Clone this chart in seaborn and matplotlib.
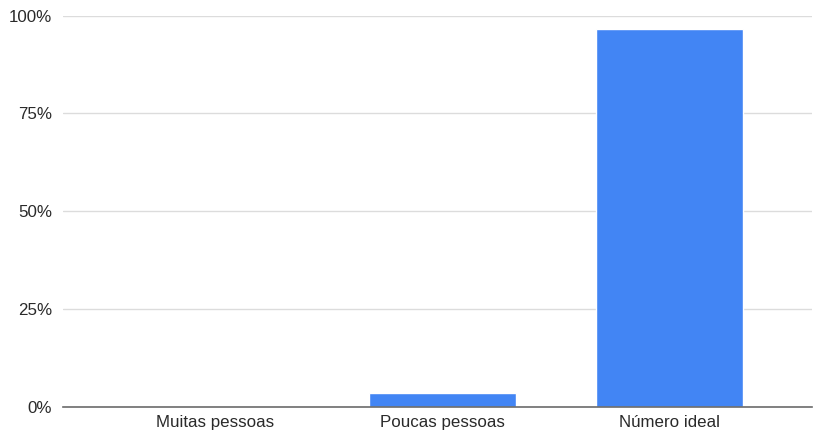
import matplotlib
matplotlib.use("Agg")
import matplotlib.pyplot as plt
import seaborn as sns
import pandas as pd
from matplotlib.ticker import FuncFormatter

categories = ["Muitas pessoas", "Poucas pessoas", "Número ideal"]
values = [0.0, 3.4, 96.6]
y_ticks = [0, 25, 50, 75, 100]

df = pd.DataFrame({"categoria": categories, "valor": values})

sns.set_theme(style="white")
plt.rcParams["font.family"] = ["Liberation Sans", "DejaVu Sans"]

fig = plt.figure(figsize=(8.14, 4.30), dpi=100)
ax = fig.add_axes([0.0774, 0.0542, 0.9201, 0.9093])

sns.barplot(data=df, x="categoria", y="valor", color="#4285F4",
            saturation=1, width=0.648, ax=ax, zorder=3)

ax.set_ylim(0, 100)
ax.set_xlim(-0.672, 2.628)
ax.set_yticks(y_ticks)
ax.yaxis.set_major_formatter(FuncFormatter(lambda v, _: f"{int(v)}%"))
ax.grid(axis="y", color="#dcdcdc", linewidth=1, zorder=0)
ax.grid(axis="x", visible=False)

for side in ["top", "right", "left"]:
    ax.spines[side].set_visible(False)
ax.spines["bottom"].set_color("#6b6b6b")
ax.spines["bottom"].set_linewidth(1.2)
ax.spines["bottom"].set_zorder(4)

ax.set_xlabel("")
ax.set_ylabel("")
ax.tick_params(axis="both", length=0, labelsize=12.2, labelcolor="#2a2a2a")
ax.tick_params(axis="y", pad=8)
ax.tick_params(axis="x", pad=6)

fig.savefig("out.png", dpi=100)
